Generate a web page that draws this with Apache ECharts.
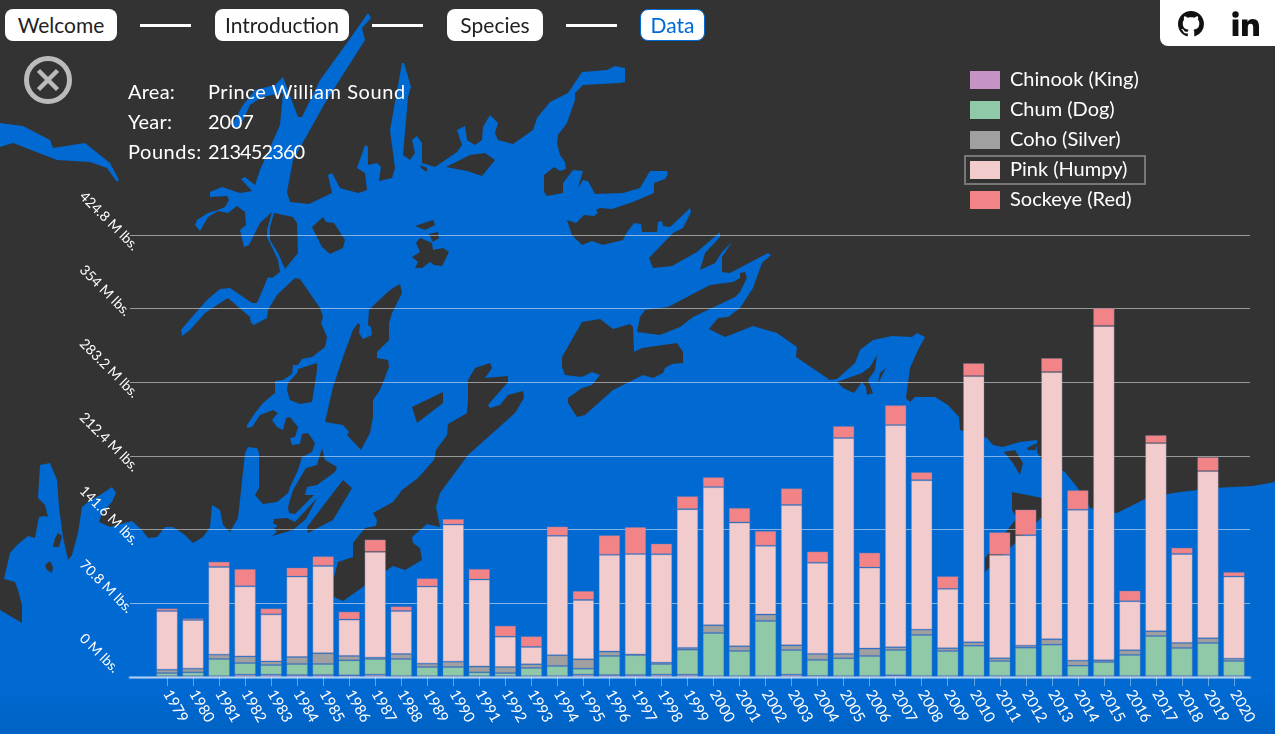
<!DOCTYPE html>
<html><head><meta charset="utf-8">
<style>
html,body{margin:0;padding:0;width:1275px;height:734px;overflow:hidden;background:#333;font-family:Lato,sans-serif;color:#fff}
#map{position:absolute;left:0;top:0}
#chart{position:absolute;left:0;top:0;width:1275px;height:734px}
.nav{position:absolute;top:9px;height:32px;line-height:31px;background:#fff;color:#222;border-radius:8px;font-size:21px;text-align:center;box-sizing:border-box}
.nav.on{color:#0069d2;border:1px solid #0069d2;line-height:29px}
.dash{position:absolute;top:24px;height:3px;width:51px;background:#fff}
.t{position:absolute;font-size:20px;line-height:24px;white-space:nowrap;letter-spacing:.25px}
#social{position:absolute;left:1160px;top:0;width:115px;height:46px;background:#fff;border-bottom-left-radius:8px}
#box{position:absolute;left:964px;top:155px;width:178px;height:26px;border:2px solid #777}
</style></head><body>
<svg id="map" width="1275" height="734" viewBox="0 0 1275 734">
<defs><linearGradient id="fade" x1="0" y1="0" x2="0" y2="1"><stop offset="0" stop-color="#000" stop-opacity="0"/><stop offset="1" stop-color="#000" stop-opacity=".07"/></linearGradient></defs>
<rect width="1275" height="734" fill="#333"/>
<g fill="#0069d2">
<polygon points="0,123 23,126 50,140 53,148 85,143 110,163 119,180 117,182 107,168 90,162 57,160 13,143 0,147"/>
<polygon points="0,734 0,610 22,623 22,605 18,590 15,582 4,579 10,553 17,545 28,536 35,538 39,517 45,516 48,517 45,505 38,498 40,465 50,463 57,480 59,507 63,537 68,560 72,555 78,533 82,507 88,502 100,495 112,487 116,493 112,502 102,513 99,522 110,527 132,521 142,530 148,538 157,537 165,527 173,527 185,535 193,543 203,537 210,527 212,505 217,508 220,510 223,525 230,532 238,518 245,453 248,447 257,448 259,453 259,488 255,495 263,504 277,502 288,493 290,487 298,470 302,457 312,452 315,443 308,433 302,434 300,444 292,445 290,438 295,437 298,427 290,417 286,418 283,430 277,427 272,420 278,413 273,410 260,415 252,427 247,428 247,425 255,413 263,403 275,393 275,381 283,380 292,374 293,365 298,365 302,359 312,357 325,347 327,337 321,323 323,317 320,308 300,279 295,278 277,295 268,310 267,318 254,325 251,323 250,317 237,306 228,298 220,303 205,313 190,330 182,336 181,330 192,317 207,300 220,289 230,288 252,303 257,303 268,277 272,278 280,272 278,260 267,237 267,230 272,212 260,223 249,245 244,247 240,230 246,225 245,212 237,206 228,213 218,211 208,217 200,231 195,225 197,220 208,213 218,210 225,207 229,200 227,196 210,197 210,192 222,187 240,193 252,191 241,179 245,177 255,185 260,170 280,125 283,93 262,97 250,105 240,127 233,128 232,125 243,105 255,90 275,85 283,77 298,117 302,117 320,80 347,43 368,13 371,18 362,28 365,40 325,103 293,160 287,192 290,202 309,204 332,193 328,175 332,173 340,188 358,193 367,190 365,173 357,168 365,145 368,147 368,165 377,163 381,167 379,181 392,178 395,168 390,130 402,63 404,63 411,87 408,97 403,155 410,160 415,153 412,140 417,136 422,143 422,163 435,167 457,152 462,145 457,130 465,126 467,140 475,145 482,140 483,127 490,115 498,123 495,133 498,140 513,144 533,130 537,118 550,102 568,93 582,72 607,70 615,66 625,68 625,82 620,83 583,85 575,93 575,100 567,123 558,135 557,143 560,155 565,162 566,169 560,171 554,167 544,175 544,192 547,196 563,193 563,183 573,170 583,171 578,188 583,180 588,181 595,194 623,193 640,188 650,171 667,171 668,174 665,179 654,183 654,193 633,202 612,209 600,208 596,210 598,213 594,216 584,215 576,223 567,220 572,235 582,245 592,241 603,245 623,240 627,232 634,223 641,224 642,232 657,232 658,222 662,221 663,226 670,227 685,213 690,208 691,212 683,228 673,233 649,258 653,268 672,266 697,252 720,232 720,237 705,253 700,270 715,263 722,252 732,242 722,257 722,272 730,273 768,253 771,255 762,263 753,288 740,308 728,317 718,318 709,329 725,337 753,326 777,333 797,347 796,357 830,380 837,379 855,363 860,350 873,340 892,336 912,337 917,333 925,337 918,350 910,368 906,398 910,402 915,397 935,397 948,405 959,417 960,430 987,438 993,445 1003,447 1020,442 1037,440 1037,452 1042,460 1065,472 1077,487 1090,508 1117,513 1147,498 1173,493 1213,488 1253,486 1275,482 1275,734"/>
</g>
<g fill="#333">
<polygon points="369,310 377,302 390,290 400,284 402,293 392,313 389,323 389,340 377,352 377,358 388,360 389,367 380,390 373,400 373,417 370,433 361,450 347,435 349,432 343,425 325,422 333,387 343,357 353,330 358,323 360,325 359,333 363,339 372,335 371,327 368,325"/>
<polygon points="298,369 317,363 317,370 312,402 300,404 290,400 287,390 288,383 297,373"/>
<polygon points="274,213 293,217 297,223 298,253 285,269 278,253 270,240 270,227"/>
<polygon points="312,227 323,217 326,222 334,223 345,240 343,248 330,254 322,247"/>
<polygon points="322,448 325,460 337,467 335,472 317,485 307,487 305,495 314,495 295,514 289,513 288,507 293,490 306,468 317,465"/>
<polygon points="317,498 295,522 287,518 274,519 273,523 278,526 274,528 277,532 272,536 293,530 306,519"/>
<polygon points="343,480 352,488 333,520 308,533 307,527 333,493"/>
<polygon points="55,538 58,533 62,536 59,547 53,547"/>
<polygon points="45,565 50,561 53,567 52,573 47,570"/>
<polygon points="415,226 433,220 435,225 425,230"/>
<polygon points="429,234 438,232 439,238 433,242"/>
<polygon points="420,238 432,243 433,250 443,248 449,252 442,266 434,265 430,262 422,268 415,268 418,262 412,257 420,252 416,243"/>
<polygon points="420,165 427,168 427,172 421,168"/>
<polygon points="446,167 470,155 485,153 495,160 482,176 467,171"/>
<polygon points="640,317 645,310 668,307 710,285 733,282 740,278 740,273 745,272 747,278 740,292 735,297 693,317 680,327 660,335 637,332"/>
<polygon points="562,357 582,322 600,319 613,329 630,324 633,327 634,352 642,348 677,343 683,352 683,363 672,364 665,368 663,373 653,378 643,375 627,383 613,390 585,415 577,417 568,403 568,398 582,388 592,385 600,375 592,372 582,377 565,375 562,367"/>
<polygon points="412,407 443,392 443,403 417,423"/>
<polygon points="468,380 475,368 490,363 492,368 485,378 508,376 508,382 488,405 490,408 500,405 508,395 523,391 524,398 515,413 468,455 440,493 436,507 440,527 427,524 412,537 413,543 420,548 422,560 405,570 393,566 387,570 343,601 334,597 334,577 338,562 353,557 353,543 365,528 376,526 377,520 373,513 393,502 402,490 418,478 434,460 436,450 447,435 448,424 467,413 468,400"/>
<polygon points="837,382 862,373 862,382 854,393 843,388"/>
<polygon points="877,355 875,370 868,380 873,393 867,395 866,387 862,382 862,373 870,367"/>
<polygon points="886,368 878,383 880,373"/>
<polygon points="1004,452 1015,450 1023,463 1020,475 1013,463"/>
<polygon points="1027,448 1037,443 1036,450 1028,450"/>
<polygon points="1012,492 1012,510 1017,518 985,558 985,572 1042,517 1050,500 1067,500 1042,498"/>
</g>
<rect y="690" width="1275" height="44" fill="url(#fade)"/>
</svg>
<div id="chart"></div>
<div class="nav" style="left:5px;width:112px">Welcome</div><div class="dash" style="left:140px"></div>
<div class="nav" style="left:215px;width:134px">Introduction</div><div class="dash" style="left:372px"></div>
<div class="nav" style="left:447px;width:96px">Species</div><div class="dash" style="left:566px"></div>
<div class="nav on" style="left:640px;width:65px">Data</div>
<svg style="position:absolute;left:24px;top:56px" width="48" height="48" viewBox="0 0 48 48"><circle cx="24" cy="24" r="21.5" fill="none" stroke="#bbb" stroke-width="5"/><path d="M14.500 14.500L33.500 33.500M33.500 14.500L14.500 33.500" stroke="#bbb" stroke-width="4.500"/></svg>
<div class="t" style="left:128px;top:79px">Area:</div><div class="t" style="left:208px;top:79px;letter-spacing:.55px">Prince William Sound</div>
<div class="t" style="left:128px;top:109px">Year:</div><div class="t" style="left:208px;top:109px;letter-spacing:-.2px">2007</div>
<div class="t" style="left:128px;top:139px;letter-spacing:.55px">Pounds:</div><div class="t" style="left:208px;top:139px;letter-spacing:-.9px">213452360</div>
<div id="social">
<svg style="position:absolute;left:18px;top:11px" width="26" height="26" viewBox="0 0 16 16"><path fill="#111" d="M8 0C3.58 0 0 3.58 0 8c0 3.54 2.29 6.53 5.47 7.59.4.07.55-.17.55-.38 0-.19-.01-.82-.01-1.49-2.01.37-2.53-.49-2.69-.94-.09-.23-.48-.94-.82-1.13-.28-.15-.68-.52-.01-.53.63-.01 1.08.58 1.23.82.72 1.21 1.87.87 2.33.66.07-.52.28-.87.51-1.07-1.78-.2-3.64-.89-3.64-3.95 0-.87.31-1.59.82-2.15-.08-.2-.36-1.02.08-2.12 0 0 .67-.21 2.2.82.64-.18 1.32-.27 2-.27.68 0 1.36.09 2 .27 1.53-1.04 2.2-.82 2.2-.82.44 1.1.16 1.92.08 2.12.51.56.82 1.27.82 2.15 0 3.07-1.87 3.75-3.65 3.95.29.25.54.73.54 1.48 0 1.07-.01 1.93-.01 2.2 0 .21.15.46.55.38A8.013 8.013 0 0016 8c0-4.42-3.58-8-8-8z"/></svg>
<svg style="position:absolute;left:72px;top:11px" width="28" height="26" viewBox="0 0 28 26"><circle cx="3.5" cy="3.5" r="3.2" fill="#111"/><rect x="0.6" y="8.5" width="5.8" height="16.5" fill="#111"/><path fill="#111" d="M10 8.5h5.5v2.4c1-1.7 2.8-2.8 5-2.8 4.800 0 6.500 3 6.500 7.500V25h-5.800v-8.500c0-2.200-.5-3.800-2.600-3.800-2.100 0-2.800 1.600-2.800 3.800V25H10z"/></svg>
</div>
<div id="box"></div>
<script src="https://cdn.jsdelivr.net/npm/echarts@6/dist/echarts.min.js"></script>
<script>
const years=["1979","1980","1981","1982","1983","1984","1985","1986","1987","1988","1989","1990","1991","1992","1993","1994","1995","1996","1997","1998","1999","2000","2001","2002","2003","2004","2005","2006","2007","2008","2009","2010","2011","2012","2013","2014","2015","2016","2017","2018","2019","2020"];
const yTickLabels=["0 M lbs.","70.8 M lbs.","141.6 M lbs.","212.4 M lbs.","283.2 M lbs.","354 M lbs.","424.8 M lbs."];
const seriesNames=["Chinook (King)","Chum (Dog)","Coho (Silver)","Pink (Humpy)","Sockeye (Red)"];
const chinook=[0.8,0.8,0.8,2.2,2.2,1.9,1.9,1.6,2.2,0.8,0.8,0.8,0.8,0.8,0.8,0.8,2.2,1.9,1.9,2.2,2.2,0.8,0.8,0.8,2.2,1.0,0.8,0.8,1.6,0.8,0.8,0.8,0.8,0.8,0.8,0.8,0.8,0.8,0.8,0.8,0.8,0.8];
const chum=[3.0,3.7,16.5,11.2,9.3,10.6,10.6,14.4,15.1,16.5,8.8,8.8,3.7,3.0,7.9,9.8,5.8,18.3,19.2,10.3,24.1,41.5,24.2,53.1,23.7,15.4,17.2,19.4,24.4,39.6,24.2,29.3,14.6,27.4,30.3,10.1,13.6,20.4,38.6,27.1,31.9,14.6];
const coho=[3.2,3.5,4.2,6.4,3.5,6.7,10.3,4.2,1.3,4.8,3.2,5.1,5.5,5.8,3.5,10.3,9.0,4.2,0.6,1.3,1.6,7.4,4.5,6.1,4.5,5.8,4.2,7.1,2.6,5.1,2.6,3.2,2.6,1.9,5.1,4.8,1.6,4.5,4.5,4.8,4.5,2.2];
const pink=[56.4,46.8,84.3,67.4,45.2,77.3,84.0,35.0,101.7,41.4,74.1,131.8,83.7,29.2,16.7,114.8,57.1,93.0,96.5,104.2,133.4,132.8,119.0,66.1,135.0,87.6,207.5,77.9,213.5,143.7,57.1,255.9,99.4,106.2,256.9,145.0,321.4,47.1,180.9,85.6,160.7,78.9];
const sockeye=[2.6,1.6,5.1,16.7,5.8,8.7,9.3,7.7,11.9,4.5,8.0,5.5,10.3,10.6,10.3,9.0,8.7,18.9,26.0,10.3,12.5,9.6,14.1,14.4,16.0,10.9,11.5,14.4,19.2,7.7,12.2,12.5,21.8,24.7,13.5,18.9,17.3,10.3,7.7,6.1,13.5,4.5];
const values=[chinook,chum,coho,pink,sockeye];
const colors=["#c594c5","#8fc9a8","#a0a0a0","#f2cccc","#f28488"];
const font='Lato, sans-serif';
const chart=echarts.init(document.getElementById('chart'),null,{renderer:'canvas'});
chart.setOption({
  animation:false,
  backgroundColor:'transparent',
  legend:{orient:'vertical',left:970,top:70,padding:0,itemWidth:30,itemHeight:18,itemGap:10,icon:'rect',selectedMode:false,
    itemStyle:{borderWidth:0},
    data:seriesNames,textStyle:{color:'#fff',fontSize:20,lineHeight:18,fontFamily:font,padding:[0,0,0,5]}},
  grid:[{left:154,top:235,width:1093,height:442},{left:130,top:235,width:1120,height:442}],
  xAxis:[
    {type:'category',gridIndex:0,data:years,boundaryGap:true,z:3,
      axisLine:{show:false},
      axisTick:{show:true,alignWithLabel:true,length:9,lineStyle:{color:'rgba(255,255,255,.4)',width:1}},
      axisLabel:{interval:0,rotate:-60,color:'#fff',fontSize:15,fontFamily:font,margin:14,hideOverlap:false}},
    {type:'category',gridIndex:1,data:[''],z:3,
      axisLine:{show:true,onZero:false,lineStyle:{color:'rgba(255,255,255,.38)',width:3}},
      axisTick:{show:false},axisLabel:{show:false}}
  ],
  yAxis:[
    {type:'value',gridIndex:0,min:0,max:424.8,interval:70.8,show:false,splitLine:{show:false}},
    {type:'value',gridIndex:1,min:0,max:424.8,interval:70.8,
      axisLine:{show:false},axisTick:{show:false},
      splitLine:{show:true,lineStyle:{color:'rgba(255,255,255,.5)',width:1}},
      axisLabel:{show:true,rotate:-45,color:'#fff',fontSize:14,fontFamily:font,margin:89,align:'left',verticalAlign:'bottom',padding:[0,0,51,0],
        formatter:(v,i)=>yTickLabels[i]}}
  ],
  series:seriesNames.map((n,i)=>({
    name:n,type:'bar',stack:'total',xAxisIndex:0,yAxisIndex:0,data:values[i],barWidth:21.5,
    itemStyle:{color:colors[i],borderColor:'rgba(128,128,170,.4)',borderWidth:1},
    emphasis:{disabled:true}
  }))
});
</script>
</body></html>
